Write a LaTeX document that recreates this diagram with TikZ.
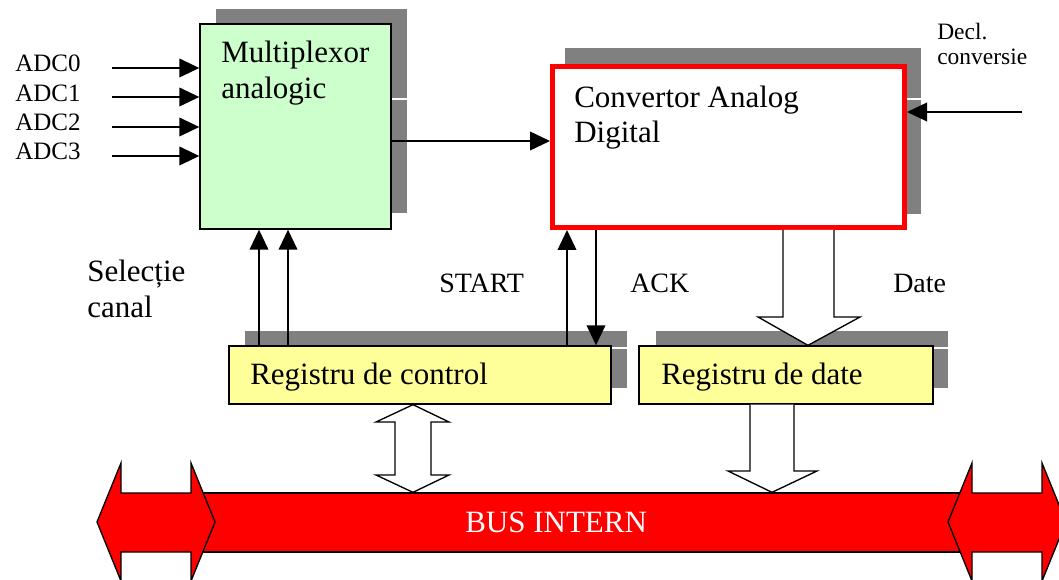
\documentclass[tikz,border=0pt]{standalone}
\usepackage{fontspec}
\setmainfont{Liberation Serif}
\usetikzlibrary{arrows.meta,calc}
\definecolor{muxgreen}{HTML}{CCFFCC}
\definecolor{regyellow}{HTML}{FFFF99}
\definecolor{shadowgray}{HTML}{808080}
\definecolor{busred}{HTML}{FF0000}

\begin{document}
\begin{tikzpicture}[x=0.75pt,y=-0.75pt,
  box/.style={draw=black, line width=1pt, inner sep=0pt},
  shadowbox/.style={fill=shadowgray, draw=none},
  shadowgap/.style={draw=white, line width=0.8pt},
  arr/.style={line width=1.2pt, -{Triangle[length=15pt,width=14pt]}},
  hollow/.style={fill=white, draw=black, line width=1pt, line join=miter},
  busarrow/.style={fill=busred, draw=black, line width=1pt, line join=miter},
  boxtxt/.style={font=\fontsize{23.25pt}{27pt}\selectfont, anchor=base west, inner sep=0pt},
  sigtxt/.style={font=\fontsize{21pt}{25pt}\selectfont, anchor=base west, inner sep=0pt},
  adctxt/.style={font=\fontsize{18.75pt}{22pt}\selectfont, anchor=base west, inner sep=0pt},
  decltxt/.style={font=\fontsize{17.6pt}{20pt}\selectfont, anchor=base west, inner sep=0pt}
]
\useasboundingbox (0,0) rectangle (1059,580);
\clip (0,0) rectangle (1059,580);

% drop shadows of the blocks
\fill[shadowbox] (216,9) rectangle (407,213);
\draw[shadowgap] (391,99) -- (407,99);
\fill[shadowbox] (565,48) rectangle (921,214);
\draw[shadowgap] (907,99) -- (921,99);
\fill[shadowbox] (245,331) rectangle (627,388);
\draw[shadowgap] (611,348) -- (627,348);
\fill[shadowbox] (656,331) rectangle (948,388);
\draw[shadowgap] (933,348) -- (948,348);

% internal bus bar
\node[box, fill=busred, minimum width=573.75pt, minimum height=44.25pt] (bus) at (582.5,522.5) {};

% blocks
\node[box, fill=muxgreen, minimum width=143.25pt, minimum height=153.75pt] (mux) at (295.5,126.5) {};
\node[draw=busred, line width=3.75pt, fill=white, inner sep=0pt,
      minimum width=264pt, minimum height=120.75pt] (conv) at (728.5,147) {};
\node[box, fill=regyellow, minimum width=286.5pt, minimum height=43.5pt] (ctl) at (420,375) {};
\node[box, fill=regyellow, minimum width=220.5pt, minimum height=43.5pt] (datareg) at (786,375) {};

% block labels
\node[boxtxt] (muxa) at (221,63) {Multiplexor};
\node[boxtxt] (muxb) at (221,99) {analogic};
\node[boxtxt] (conva) at (574,108) {Convertor Analog};
\node[boxtxt] (convb) at (574,143) {Digital};
\node[boxtxt] (ctltxt) at (250,385) {Registru de control};
\node[boxtxt] (datatxt) at (661,385) {Registru de date};

% analog inputs
\node[adctxt] (adc0) at (15,72) {ADC0};
\node[adctxt] (adc1) at (15,102) {ADC1};
\node[adctxt] (adc2) at (15,131) {ADC2};
\node[adctxt] (adc3) at (15,160) {ADC3};
\coordinate (in0) at (112,68);
\coordinate (in1) at (112,97);
\coordinate (in2) at (112,127);
\coordinate (in3) at (112,156);
\draw[arr] (in0) -- (in0 -| mux.west);
\draw[arr] (in1) -- (in1 -| mux.west);
\draw[arr] (in2) -- (in2 -| mux.west);
\draw[arr] (in3) -- (in3 -| mux.west);

% multiplexer output into the converter
\draw[arr] (mux.east |- 0,141) -- (conv.west |- 0,141);

% conversion trigger
\node[decltxt] (decla) at (937,40) {Decl.};
\node[decltxt] (declb) at (937,65) {conversie};
\coordinate (declin) at (1022,112);
\draw[arr] (declin) -- (declin -| conv.east);

% channel select lines
\draw[arr] (ctl.north -| 259,0) -- (mux.south -| 259,0);
\draw[arr] (ctl.north -| 288,0) -- (mux.south -| 288,0);
\node[boxtxt] (sela) at (87,282) {Selecție};
\node[boxtxt] (selb) at (87,318) {canal};

% handshake lines
\draw[arr] (ctl.north -| 567,0) -- (conv.south -| 567,0);
\draw[arr] (conv.south -| 596,0) -- (ctl.north -| 596,0);
\node[sigtxt] (start) at (439,293) {START};
\node[sigtxt] (ack) at (630,293) {ACK};
\node[sigtxt] (date) at (893,293) {Date};

% data path: converter -> data register
\path[hollow] (conv.south -| 783,0) -- (783,317) -- (758,317) -- (datareg.north -| 808,0)
  -- (860,317) -- (834,317) -- (conv.south -| 834,0);

% data register -> bus
\path[hollow] (datareg.south -| 750,0) -- (750,471) -- (728,471) -- (bus.north -| 772,0)
  -- (817,471) -- (794,471) -- (datareg.south -| 794,0);

% control register <-> bus
\draw[hollow] (ctl.south -| 413,0) -- (449,422) -- (431,422) -- (431,475) -- (449,475)
  -- (bus.north -| 413,0) -- (376,475) -- (395,475) -- (395,422) -- (376,422) -- cycle;

% bus end arrows
\draw[busarrow] (97,522) -- (121,463) -- (121,493) -- (191,493) -- (191,463) -- (215,522)
  -- (191,581) -- (191,552) -- (121,552) -- (121,581) -- cycle;
\draw[busarrow] (948,522) -- (972,463) -- (972,493) -- (1042,493) -- (1042,463) -- (1066,522)
  -- (1042,581) -- (1042,552) -- (972,552) -- (972,581) -- cycle;

\node[boxtxt, text=white] (bustxt) at (465,532) {BUS INTERN};
\end{tikzpicture}
\end{document}
